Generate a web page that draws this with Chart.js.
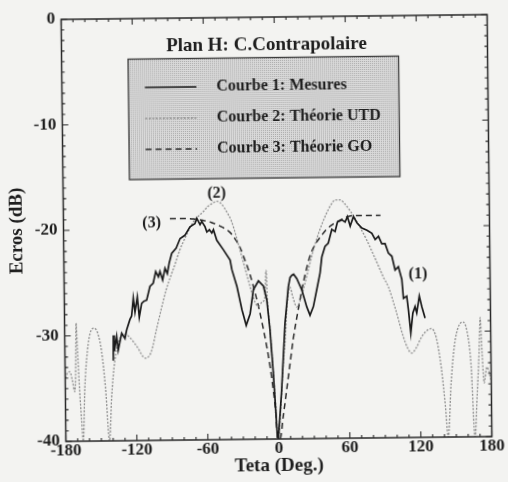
<!DOCTYPE html>
<html>
<head>
<meta charset="utf-8">
<script src="https://cdn.jsdelivr.net/npm/chart.js@4.4.0/dist/chart.umd.min.js"></script>
<style>
  html, body { margin: 0; padding: 0; background: #f3f3f1; overflow: hidden; }
  /* la feuille scannée est légèrement de travers */
  #page { width: 508px; height: 482px; transform: rotate(-0.65deg); transform-origin: 276.5px 228px; }
  canvas { display: block; }
</style>
</head>
<body>
<div id="page"><canvas id="diag" width="508" height="482"></canvas></div>
<script>
// Courbe 1 : mesures (dB) en fonction de teta (deg)
const mesuresTeta = [-139.2, -138.9, -138.2, -136.1, -134.9, -131.8, -129.1, -127.6, -124.7, -123.3, -121.7, -120.4,
  -118.3, -116.8, -114.7, -112.7, -110.4, -107.5, -104.7, -102.5, -100.3, -98.9, -96.7, -94.6, -92.7, -91.0, -88.8,
  -85, -81.6, -77.5, -73.1, -68.9, -67.3, -64.6, -63.1, -60.4, -58.9, -56.7, -54.7, -53.3, -50.6, -45.1, -39.5, -38.1,
  -34.0, -30, -26.5, -23.1, -20.1, -15.8, -11.6, -8.9, -6.5, -4.1, -1.2, -0.4,
  2.8, 6.3, 9.4, 11, 12.5, 14, 16.6, 20.8, 24.8, 27.5, 30.4, 33.4, 36.4, 38, 40.8, 43.6, 46.7, 49.5, 51.5, 55.2, 58, 60,
  62.3, 65.1, 68, 72.2, 76.4, 80.5, 83.3, 86.1, 88.8, 91.6, 94.3, 97.2, 99.8, 102.6, 105.4, 106.6, 109.4, 110.7, 112.5,
  114.4, 116.3, 117.7, 120, 122, 124.7];
const mesuresDb = [-32.4, -30.0, -31.5, -30.1, -31.4, -29.8, -30.3, -29.5, -28.5, -28.2, -26.5, -27.8,
  -26.4, -28.3, -27.0, -26.8, -26.7, -25.4, -25.1, -24.0, -24.5, -24.0, -24.8, -23.7, -24.2, -23.2, -22.3,
  -21.8, -20.9, -20.6, -19.8, -19.5, -19.0, -19.6, -19.3, -19.8, -20.3, -20.1, -20.4, -20.1, -21.1, -22.0, -23.0, -23.9,
  -25.5, -27.7, -29.2, -28.1, -25.8, -25.0, -25.5, -26.8, -29.6, -33.7, -39.8, -40,
  -35.4, -29.0, -25.6, -24.7, -24.5, -24.4, -24.8, -25.9, -27.5, -28.3, -27.5, -25.9, -24.3, -22.8, -21.8, -21.5, -20.2, -20.4, -19.5, -19.3, -19.5, -19.0,
  -19.9, -19.0, -19.6, -20.1, -20.3, -20.6, -21.2, -20.9, -21.6, -21.6, -22.5, -22.8, -24.1, -23.8, -25.0, -26.8, -26.6, -27.9, -30.1,
  -28.2, -27.6, -28.2, -26.6, -27.6, -28.7];

// Courbe 2 : théorie UTD
const utdTeta = [-180, -178, -176, -174, -172, -171, -170.3, -169.5, -168, -166.5, -165.3, -163.5, -161, -158, -155, -152,
  -149, -146, -143, -141, -138, -134, -130, -126, -119, -112, -107, -102, -98, -94, -90, -86, -82, -78, -74, -70, -66,
  -62, -58, -54, -50, -46, -42, -38, -34, -30, -26, -22, -19, -16, -13, -10.5, -9.2, -8.5, -6.5, -4.5, -2.5, -0.5,
  2, 4, 6.2, 8.5, 10.7, 13, 16.3, 19, 22, 26, 31, 36, 41, 46, 50, 54, 58, 62, 66, 70, 76, 80, 85, 90, 94, 100, 106, 110,
  113, 117, 121, 125, 130, 134, 138, 141, 143.2, 146, 149, 152, 156.5, 160, 163, 165.8, 168, 170, 171.2, 172.5, 174,
  176.4, 178, 180];
const utdDb = [-34.0, -33.5, -33.4, -34.2, -35.3, -33, -28.8, -31, -35, -38, -40, -35, -31.5, -29.6, -29.3, -29.8,
  -31.5, -35, -40, -36, -32.5, -30.5, -29.9, -30.1, -31.1, -32.2, -31.6, -29.3, -27.5, -25.8, -24.5, -23.3, -22.0, -21.0, -20.1, -19.3, -18.8,
  -18.4, -17.9, -17.6, -17.4, -17.7, -18.4, -19.3, -20.8, -22.5, -24.2, -25.9, -27.0, -27.4, -27.0, -26.6, -24.0, -26.5, -29.5, -33, -36.5, -40,
  -37, -33.5, -30.6, -27, -25.6, -26.5, -27.5, -27, -25.9, -24.2, -22.1, -20.4, -19.0, -17.9, -17.4, -17.4, -17.8, -18.4, -19.1, -19.9, -21.2, -22.2, -23.5, -24.8, -25.7, -27.9, -30.4, -31.6,
  -32.0, -31.5, -30.6, -30.0, -29.7, -30.6, -33.5, -37, -40, -35, -31.5, -29.8, -29.1, -30, -33, -40, -36, -32, -28.7, -32, -34.9,
  -33.4, -33.8, -34.7];

// Courbe 3 : théorie GO
const goTeta = [-90, -80, -70, -62, -55, -47, -40, -35, -31, -27, -22.8, -19, -16, -12.5, -9.4, -6.5, -4.3, -2.5, -1,
  1, 4, 7, 10, 13, 17, 21, 24.5, 28, 32, 37, 43, 51, 58, 65, 88];
const goDb = [-19.0, -19.0, -19.05, -19.2, -19.4, -19.8, -20.3, -21.0, -21.8, -23.0, -24.4, -26.0, -27.4, -29.3, -31.2, -33.3, -35.3, -37.3, -40,
  -40, -37.8, -35.4, -33, -30.6, -28.1, -25.8, -24.1, -22.7, -21.7, -20.9, -20.1, -19.5, -19.1, -18.9, -18.9];

const xTicks = [-180, -120, -60, 0, 60, 120, 180];
const yTicks = [-40, -30, -20, -10, 0];

const points = (xs, ys) => xs.map((x, i) => ({ x, y: ys[i] }));
const serif = 'Liberation Serif, "Times New Roman", serif';
const encre = '#1e1e1e';

// fond pointillé du cartouche de légende
const motif = document.createElement('canvas');
motif.width = 2; motif.height = 2;
const mctx = motif.getContext('2d');
mctx.fillStyle = '#dadada'; mctx.fillRect(0, 0, 2, 2);
mctx.fillStyle = '#a9a9a9'; mctx.fillRect(0, 0, 1, 1);

// cadre, graduations intérieures, titre, légende et repères (1)(2)(3)
const habillage = {
  id: 'habillage',
  afterDatasetsDraw(chart, args, opts) {
    const { ctx, chartArea: a, scales: { x, y } } = chart;
    ctx.save();
    ctx.strokeStyle = '#282828';
    ctx.lineWidth = 1.5;
    ctx.setLineDash([]);
    ctx.strokeRect(a.left, a.top, a.right - a.left, a.bottom - a.top);

    ctx.lineWidth = 1.1;
    ctx.beginPath();
    for (let t = -180; t <= 180; t += 10) {
      const px = x.getPixelForValue(t);
      const len = t % 60 === 0 ? 6 : 3;
      ctx.moveTo(px, a.bottom); ctx.lineTo(px, a.bottom - len);
      ctx.moveTo(px, a.top); ctx.lineTo(px, a.top + len);
    }
    for (let v = -40; v <= 0; v += 1) {
      const py = y.getPixelForValue(v);
      const len = v % 10 === 0 ? 6 : 3;
      ctx.moveTo(a.left, py); ctx.lineTo(a.left + len, py);
      ctx.moveTo(a.right, py); ctx.lineTo(a.right - len, py);
    }
    ctx.stroke();

    ctx.fillStyle = encre;
    ctx.textAlign = 'center';
    ctx.textBaseline = 'middle';
    ctx.font = `bold 19px ${serif}`;
    ctx.fillText(opts.titre, a.left + 205, a.top + 28);

    // cartouche
    const bx = a.left + 66.5, by = a.top + 40.5, bw = 270.5, bh = 120.5;
    ctx.fillStyle = ctx.createPattern(motif, 'repeat');
    ctx.fillRect(bx, by, bw, bh);
    ctx.strokeStyle = '#3a3a3a';
    ctx.lineWidth = 1.3;
    ctx.strokeRect(bx, by, bw, bh);
    ctx.font = `bold 16px ${serif}`;
    ctx.textAlign = 'left';
    chart.data.datasets.forEach((ds, i) => {
      const ly = by + 28.5 + i * 31;
      ctx.strokeStyle = ds.borderColor;
      ctx.lineWidth = ds.borderWidth;
      ctx.setLineDash(ds.borderDash || []);
      ctx.beginPath();
      ctx.moveTo(bx + 16.5, ly); ctx.lineTo(bx + 68, ly);
      ctx.stroke();
      ctx.fillStyle = encre;
      ctx.fillText(ds.label, bx + 88, ly);
    });
    ctx.setLineDash([]);

    ctx.font = `bold 16px ${serif}`;
    ctx.textAlign = 'center';
    opts.reperes.forEach((r) => {
      ctx.fillText(r.texte, x.getPixelForValue(r.teta), y.getPixelForValue(r.db));
    });
    ctx.restore();
  },
};

const chart = new Chart(document.getElementById('diag'), {
  type: 'line',
  data: {
    datasets: [
      { label: 'Courbe 1: Mesures', data: points(mesuresTeta, mesuresDb), borderColor: '#1a1a1a', borderWidth: 1.7, pointRadius: 0, tension: 0 },
      { label: 'Courbe 2: Théorie UTD', data: points(utdTeta, utdDb), borderColor: '#8e8e8e', borderWidth: 1.3, borderDash: [2, 1.5],
        pointRadius: 0, cubicInterpolationMode: 'monotone' },
      { label: 'Courbe 3: Théorie GO', data: points(goTeta, goDb), borderColor: '#2a2a2a', borderWidth: 1.5, borderDash: [6, 4],
        pointRadius: 0, cubicInterpolationMode: 'monotone' },
    ],
  },
  options: {
    responsive: false,
    animation: false,
    devicePixelRatio: 1,
    layout: { padding: { left: 0, top: 17, right: 18.5, bottom: 0 } },
    scales: {
      x: {
        type: 'linear', min: -180, max: 180,
        afterBuildTicks: (s) => { s.ticks = xTicks.map((v) => ({ value: v })); },
        afterFit: (s) => { s.height = 43; },
        ticks: { color: encre, padding: 0, maxRotation: 0, autoSkip: false, font: { family: serif, size: 17, weight: 'bold', lineHeight: 1.1 } },
        grid: { display: false, drawTicks: false },
        border: { display: false },
        title: { display: true, text: 'Teta (Deg.)', color: encre, padding: { top: 0, bottom: 4.6 }, font: { family: serif, size: 19, weight: 'bold' } },
      },
      y: {
        min: -40, max: 0,
        afterBuildTicks: (s) => { s.ticks = yTicks.map((v) => ({ value: v })); },
        afterFit: (s) => { s.width = 63.5; },
        ticks: { color: encre, padding: 6, font: { family: serif, size: 17, weight: 'bold' } },
        grid: { display: false, drawTicks: false },
        border: { display: false },
        title: { display: true, text: 'Ecros (dB)', color: encre, padding: { top: 6, bottom: 0 }, font: { family: serif, size: 19, weight: 'bold' } },
      },
    },
    plugins: {
      legend: { display: false },
      tooltip: { enabled: false },
      habillage: {
        titre: 'Plan H: C.Contrapolaire',
        reperes: [
          { texte: '(2)', teta: -50.3, db: -16.7 },
          { texte: '(3)', teta: -105.5, db: -19.4 },
          { texte: '(1)', teta: 119.1, db: -24.5 },
        ],
      },
    },
  },
  plugins: [habillage],
});
</script>
</body>
</html>
